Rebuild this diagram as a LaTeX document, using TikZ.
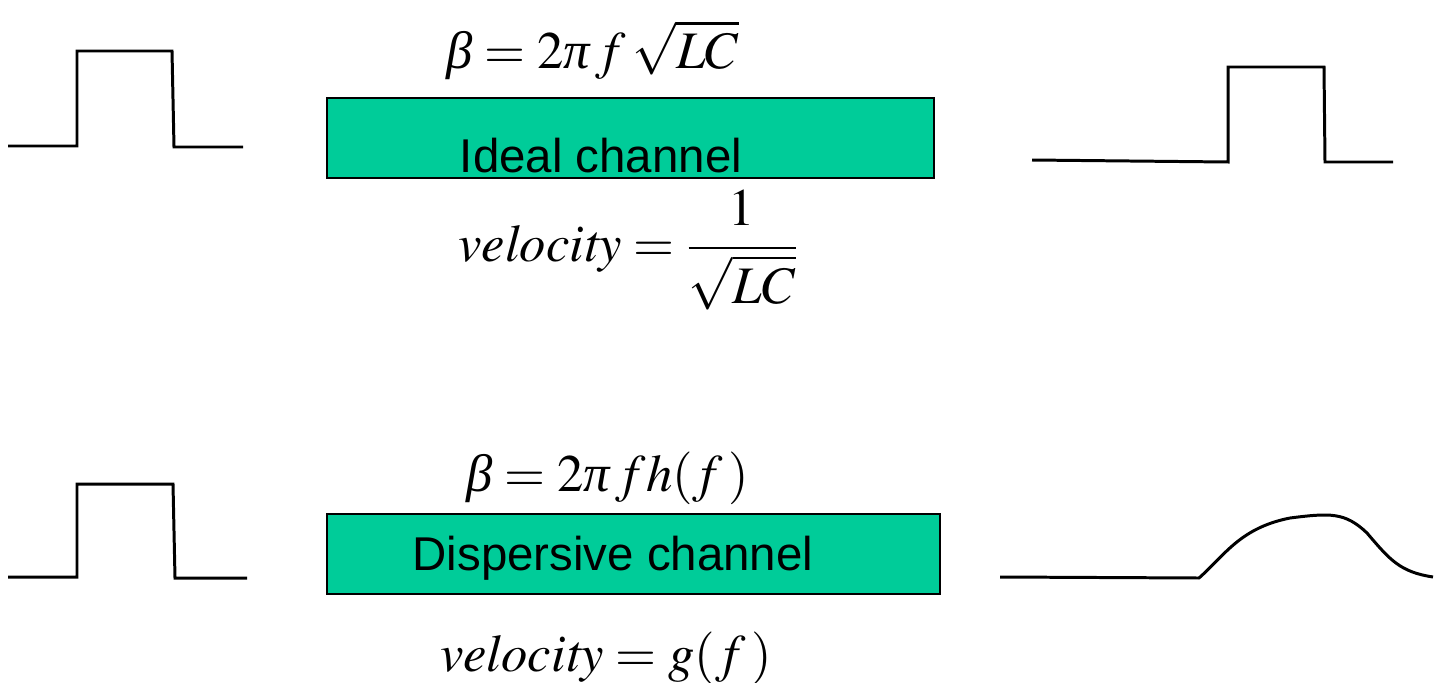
\documentclass[tikz,border=0pt]{standalone}
\usepackage{mathptmx}
\usepackage{fontspec}
\newfontfamily\arialfont{Liberation Sans}
\newfontfamily\libserif{Liberation Serif}
\newcommand\gbeta{\mbox{\libserif\itshape β}}
\newcommand\gpi{\mbox{\libserif\itshape π}}
\definecolor{chgreen}{HTML}{00CC99}
\begin{document}
\begin{tikzpicture}[x=0.02cm,y=-0.02cm,
  pulse/.style={line width=1.7pt,line join=miter},
  chanbox/.style={draw=black,line width=1.4pt,fill=chgreen,inner sep=0pt},
  chantext/.style={font=\arialfont\fontsize{27}{32}\selectfont,inner sep=0pt,anchor=base},
  eq/.style={font=\fontsize{30}{36}\selectfont,inner sep=0pt}]
\useasboundingbox (0,0) rectangle (1434,683);
% top row
\coordinate (a1) at (8,146);
\coordinate (a2) at (77,146);
\coordinate (a3) at (77,51);
\coordinate (a4) at (172,51);
\coordinate (a5) at (174,147);
\coordinate (a6) at (243,147);
\draw[pulse] (a1) -- (a2) -- (a3) -- (a4) -- (a5) -- (a6);
\node[chanbox,minimum width=12.14cm,minimum height=1.6cm] (ideal) at (630.5,138) {};
\node[chantext] (idealtxt) at (601,172) {Ideal channel};
\node[eq] (beta1) at (593,50) {$\gbeta = 2\gpi\, f\,\sqrt{LC}$};
\node[eq] (vel1) at (628,250) {$\displaystyle \mathit{velocity} = \frac{1}{\sqrt{LC}}$};
\coordinate (b1) at (1032,160);
\coordinate (b2) at (1228,162);
\coordinate (b3) at (1228,67);
\coordinate (b4) at (1324,67);
\coordinate (b5) at (1325,162);
\coordinate (b6) at (1393,162);
\draw[pulse] (b1) -- (b2) -- (b3) -- (b4) -- (b5) -- (b6);
% bottom row
\coordinate (c1) at (8,577);
\coordinate (c2) at (77,577);
\coordinate (c3) at (77,484);
\coordinate (c4) at (173,484);
\coordinate (c5) at (175,578);
\coordinate (c6) at (247,578);
\draw[pulse] (c1) -- (c2) -- (c3) -- (c4) -- (c5) -- (c6);
\node[chanbox,minimum width=12.26cm,minimum height=1.6cm] (disp) at (633.5,554) {};
\node[chantext] (disptxt) at (613,570) {Dispersive channel};
\node[eq] (beta2) at (608,478) {$\gbeta = 2\gpi\, f h(f\,)$};
\node[eq] (vel2) at (606,658) {$\mathit{velocity} = g(f\,)$};
\coordinate (d1) at (1000,577);
\coordinate (d2) at (1199,578);
\coordinate (d3) at (1433,577);
\draw[pulse,line join=round] (d1) -- (d2)
  .. controls (1225,555) and (1240,528) .. (1290,518)
  .. controls (1330,513) and (1345,512) .. (1367,533)
  .. controls (1390,560) and (1400,572) .. (d3);
\end{tikzpicture}
\end{document}
